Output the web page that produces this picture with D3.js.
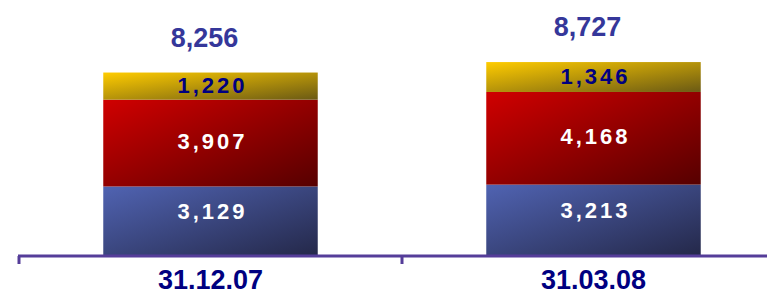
<!DOCTYPE html>
<html><head><meta charset="utf-8">
<script src="https://cdn.jsdelivr.net/npm/d3@7"></script>
<style>html,body{margin:0;padding:0;background:#fff;}svg{display:block;}</style>
</head><body>
<script>
const categories = ["31.12.07", "31.03.08"];
const seriesNames = ["blue", "red", "yellow"];
const blueValues = [3129, 3213];
const redValues = [3907, 4168];
const yellowValues = [1220, 1346];
const totals = [8256, 8727];

const W = 767, H = 294, baseY = 256;
const svg = d3.select("body").append("svg").attr("width", W).attr("height", H);
const defs = svg.append("defs");
const grads = {
  blue: ["#5063b2", "#242849"],
  red: ["#d00000", "#560000"],
  yellow: ["#ffcc00", "#6b5a14"]
};
Object.entries(grads).forEach(([k, [c0, c1]]) => {
  const g = defs.append("linearGradient").attr("id", "g-" + k)
    .attr("x1", "0").attr("y1", "0").attr("x2", "1").attr("y2", "1");
  g.append("stop").attr("offset", "0").attr("stop-color", c0);
  g.append("stop").attr("offset", "1").attr("stop-color", c1);
});

const x = d3.scaleBand().domain(categories).range([19, 785]).paddingInner(0.44).paddingOuter(0.22);
const y = d3.scaleLinear().domain([0, 9000]).range([baseY, baseY - 200]);

const rows = categories.map((c, i) => ({cat: c, blue: blueValues[i], red: redValues[i], yellow: yellowValues[i], total: totals[i]}));
const stack = d3.stack().keys(seriesNames)(rows);

const labelStyle = {blue: {fill: "#ffffff", dy: -10}, red: {fill: "#ffffff", dy: -2}, yellow: {fill: "#000080", dy: -1}};
const fmt = d3.format(",");

stack.forEach(layer => {
  const key = layer.key;
  const g = svg.append("g");
  g.selectAll("rect").data(layer).join("rect")
    .attr("x", d => x(d.data.cat))
    .attr("width", x.bandwidth())
    .attr("y", d => y(d[1]))
    .attr("height", d => y(d[0]) - y(d[1]))
    .attr("fill", `url(#g-${key})`);
  g.selectAll("text").data(layer).join("text")
    .attr("x", d => x(d.data.cat) + x.bandwidth() / 2 + 2)
    .attr("y", d => (y(d[0]) + y(d[1])) / 2 + labelStyle[key].dy)
    .attr("dy", "0.36em")
    .attr("text-anchor", "middle")
    .attr("font-family", "Liberation Sans, Arial, sans-serif")
    .attr("font-weight", "bold")
    .attr("font-size", 22)
    .attr("letter-spacing", 3)
    .attr("fill", labelStyle[key].fill)
    .text(d => fmt(d.data[key]));
});

svg.append("g").selectAll("text").data(rows).join("text")
  .attr("x", d => x(d.cat) + x.bandwidth() / 2 - 6)
  .attr("y", d => y(d.total) - 26)
  .attr("text-anchor", "middle")
  .attr("font-family", "Liberation Sans, Arial, sans-serif")
  .attr("font-weight", "bold")
  .attr("font-size", 27)
  .attr("fill", "#35379a")
  .text(d => fmt(d.total));

const ax = svg.append("g").attr("transform", `translate(0,${baseY})`);
ax.append("line").attr("x1", 18).attr("x2", W).attr("y1", 0).attr("y2", 0)
  .attr("stroke", "#553d99").attr("stroke-width", 3);
const midTick = (x(categories[0]) + x.bandwidth() + x(categories[1])) / 2;
ax.selectAll("line.tk").data([19, midTick]).join("line").attr("class", "tk")
  .attr("x1", d => d).attr("x2", d => d).attr("y1", 0).attr("y2", 8)
  .attr("stroke", "#553d99").attr("stroke-width", 3);

ax.selectAll("text.cat").data(categories).join("text").attr("class", "cat")
  .attr("x", d => x(d) + x.bandwidth() / 2)
  .attr("y", 33)
  .attr("text-anchor", "middle")
  .attr("font-family", "Liberation Sans, Arial, sans-serif")
  .attr("font-weight", "bold")
  .attr("font-size", 27)
  .attr("fill", "#000080")
  .text(d => d);
</script>
</body></html>
